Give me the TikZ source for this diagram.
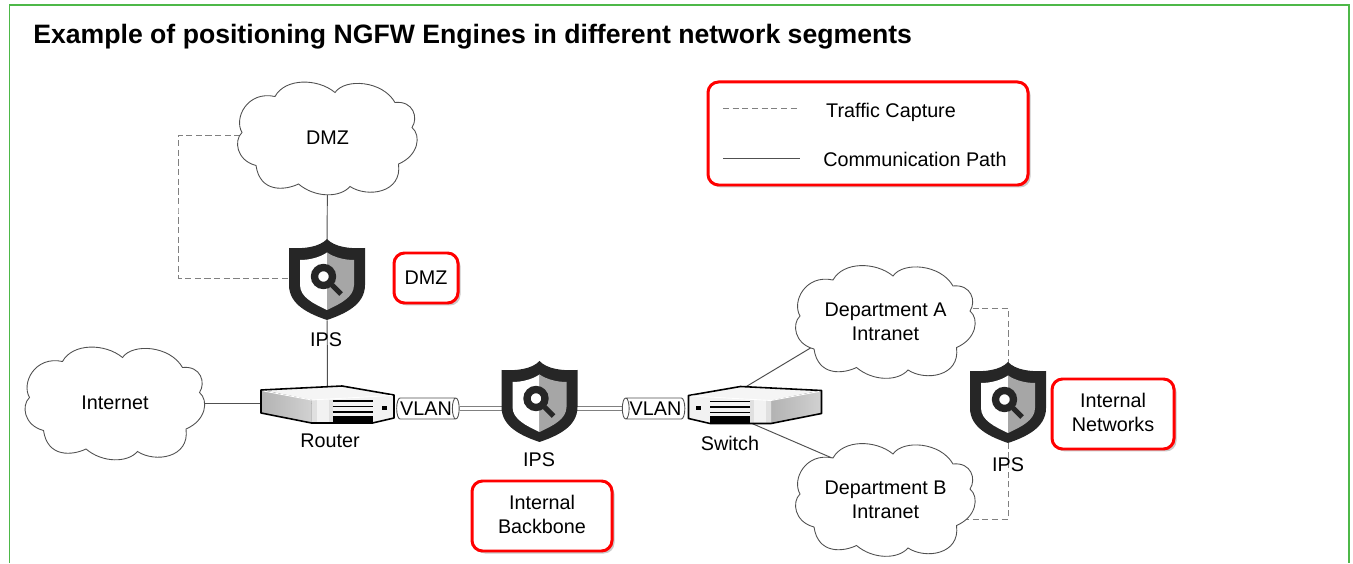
\documentclass[tikz,border=0pt]{standalone}
\usepackage{fontspec}
\setmainfont{Liberation Sans}
\usepackage{xcolor}
\usepackage{tikz}
\usetikzlibrary{shapes.geometric, positioning, backgrounds, shadows}
\definecolor{framegreen}{HTML}{4DB848}
\definecolor{shielddark}{HTML}{262626}
\definecolor{linegray}{HTML}{505050}
\tikzstyle{lbl} = [font=\fontsize{11.25}{13.6}\selectfont, align=center, inner sep=0pt]
\tikzstyle{redbox} = [lbl, draw=red, line width=1.7pt, rounded corners=6pt, fill=white, drop shadow={shadow xshift=0.05cm, shadow yshift=-0.05cm, fill=black!35, opacity=0.6}]
\tikzstyle{commpath} = [linegray, line width=0.55pt]
\tikzstyle{capture} = [gray, line width=0.55pt, dash pattern=on 3.5pt off 2pt]
\tikzstyle{trunk} = [gray, line width=0.5pt, double=white, double distance=1.7pt]
\tikzstyle{vlantube} = [lbl, shape=cylinder, draw=linegray, line width=0.5pt, fill=white, aspect=0.5, minimum width=0.42cm, minimum height=1.25cm]
\tikzstyle{cloudspot} = [lbl, minimum width=3.6cm, minimum height=2.26cm]
\tikzstyle{shieldspot} = [minimum width=1.5cm, minimum height=1.6cm, inner sep=0pt]
\tikzstyle{devicespot} = [minimum width=2.66cm, minimum height=0.74cm, inner sep=0pt]
\tikzset{
  netcloud/.pic={
    \draw[linegray, line width=0.5pt, fill=white] (-1.05,0.83)
      .. controls (-0.85,1.2) and (-0.2,1.2) .. (0.15,0.91)
      .. controls (0.35,1.2) and (1.1,1.15) .. (1.35,0.71)
      .. controls (1.72,0.75) and (1.82,0.4) .. (1.69,0.21)
      .. controls (1.88,0.05) and (1.82,-0.35) .. (1.42,-0.52)
      .. controls (1.5,-1.1) and (0.8,-1.2) .. (0.45,-0.97)
      .. controls (0.25,-1.2) and (-0.25,-1.2) .. (-0.58,-0.92)
      .. controls (-0.85,-1.05) and (-1.35,-1.1) .. (-1.43,-0.55)
      .. controls (-1.82,-0.45) and (-1.88,-0.05) .. (-1.71,0.11)
      .. controls (-1.88,0.4) and (-1.6,0.95) .. (-1.05,0.83) -- cycle;
  },
  ipsshield/.pic={
    % outer
    \fill[shielddark] (0,0.82) .. controls (0.15,0.66) and (0.45,0.62) .. (0.76,0.64)
      -- (0.76,-0.1) .. controls (0.76,-0.5) and (0.35,-0.68) .. (0,-0.8)
      .. controls (-0.35,-0.68) and (-0.76,-0.5) .. (-0.76,-0.1)
      -- (-0.76,0.64) .. controls (-0.45,0.62) and (-0.15,0.66) .. (0,0.82) -- cycle;
    % inner halves
    \fill[white] (0,0.55) .. controls (-0.15,0.45) and (-0.35,0.4) .. (-0.54,0.4)
      -- (-0.54,-0.1) .. controls (-0.54,-0.35) and (-0.25,-0.48) .. (0,-0.6) -- cycle;
    \fill[black!35] (0,0.55) .. controls (0.15,0.45) and (0.35,0.4) .. (0.54,0.4)
      -- (0.54,-0.1) .. controls (0.54,-0.35) and (0.25,-0.48) .. (0,-0.6) -- cycle;
    % magnifier
    \draw[shielddark, line width=0.146cm, fill=white] (-0.07,0.07) circle (0.18);
    \draw[shielddark, line width=0.1cm] (0.1,-0.1) -- (0.28,-0.28);
  },
  netdevice/.pic={
    % top face
    \fill[black!4] (-1.33,0.3) -- (0.29,0.38) -- (1.33,0.2) -- (-0.32,0.1) -- cycle;
    % side face
    \fill[left color=black!30, right color=black!18] (-1.33,0.3) -- (-0.32,0.1) -- (-0.32,-0.36) -- (-1.33,-0.16) -- cycle;
    % front face
    \fill[black!5] (-0.32,0.1) -- (1.33,0.2) -- (1.33,-0.26) -- (0.9,-0.36) -- (-0.32,-0.36) -- cycle;
    \fill[black!12] (-0.32,0.1) rectangle (-0.22,-0.36);
    \fill[black!12] (0.02,0.1) rectangle (0.1,-0.36);
    % grille
    \fill[black] (0.1,-0.22) rectangle (0.9,-0.36);
    \draw[black, line width=0.7pt] (0.1,0.08) -- (0.9,0.08) (0.1,-0.03) -- (0.9,-0.03) (0.1,-0.14) -- (0.9,-0.14);
    \fill[black] (1.08,-0.1) rectangle (1.18,-0.02);
    % outline
    \draw[black, line width=0.9pt, line join=round] (-1.33,0.3) -- (0.29,0.38) -- (1.33,0.2) -- (1.33,-0.26) -- (0.9,-0.36) -- (-0.32,-0.36) -- (-1.33,-0.16) -- cycle;
    \draw[white, line width=0.5pt] (-1.33,0.3) ++(0.05,-0.02) -- (-0.32,0.1) -- (1.28,0.19);
  }
}

\begin{document}
\begin{tikzpicture}
\useasboundingbox (0,0) rectangle (27.06,11.26);

% Outer frame
\draw[framegreen, line width=0.75pt] (0.19,0) -- (0.19,11.16) -- (26.98,11.16) -- (26.98,0);

% Title
\node[anchor=west, inner sep=0pt, font=\fontsize{15.15}{18}\selectfont\bfseries] (title) at (0.66,10.53) {Example of positioning NGFW Engines in different network segments};

% Clouds
\pic at (6.55,8.5) {netcloud};
\node[cloudspot] (dmz) at (6.55,8.5) {DMZ};
\pic at (2.3,3.2) {netcloud};
\node[cloudspot] (internet) at (2.3,3.2) {Internet};
\pic at (17.71,4.83) {netcloud};
\node[cloudspot] (depta) at (17.71,4.83) {Department A\\Intranet};
\pic at (17.71,1.27) {netcloud};
\node[cloudspot] (deptb) at (17.71,1.27) {Department B\\Intranet};

% Shields
\pic at (6.54,5.66) {ipsshield};
\node[shieldspot] (ipsdmz) at (6.54,5.66) {};
\pic at (10.79,3.22) {ipsshield};
\node[shieldspot] (ipsbone) at (10.79,3.22) {};
\pic at (20.16,3.2) {ipsshield};
\node[shieldspot] (ipsint) at (20.16,3.2) {};

% Router and switch
\pic at (6.55,3.16) {netdevice};
\node[devicespot] (router) at (6.55,3.16) {};
\pic[xscale=-1] at (15.1,3.15) {netdevice};
\node[devicespot] (switch) at (15.1,3.15) {};

% VLAN tubes
\node[vlantube] (vlanr) at (8.52,3.09) {VLAN};
\node[vlantube, shape border rotate=180] (vlans) at (13.11,3.09) {VLAN};

% Device labels
\node[lbl] (ipsdmzlbl) at (6.52,4.46) {IPS};
\node[lbl] (ipsbonelbl) at (10.78,2.06) {IPS};
\node[lbl] (ipsintlbl) at (20.16,1.96) {IPS};
\node[lbl] (routerlbl) at (6.6,2.44) {Router};
\node[lbl] (switchlbl) at (14.6,2.4) {Switch};

% Red callouts
\node[redbox, minimum width=6.4cm, minimum height=2.06cm] (legend) at (17.36,8.59) {};
\node[redbox, minimum width=1.28cm, minimum height=1cm] (zonedmz) at (8.52,5.7) {DMZ};
\node[redbox, text depth=0.06cm, minimum width=2.8cm, minimum height=1.4cm] (zonebone) at (10.84,0.94) {Internal\\Backbone};
\node[redbox, text depth=0.06cm, minimum width=2.44cm, minimum height=1.4cm] (zoneint) at (22.26,2.98) {Internal\\Networks};

% Legend
\coordinate (capa) at (14.46,9.1);
\coordinate (capb) at (16,9.1);
\coordinate (coma) at (14.46,8.1);
\coordinate (comb) at (16,8.1);
\draw[capture] (capa) -- (capb);
\draw[commpath] (coma) -- (comb);
\node[lbl] (captxt) at (17.82,9.02) {Traffic Capture};
\node[lbl] (comtxt) at (18.3,8.08) {Communication Path};

% Connectors
\coordinate (capdmz) at (3.56,7);
\begin{scope}[on background layer]
\draw[commpath] (dmz) -- (ipsdmz);
\draw[commpath] (ipsdmz) -- (router);
\draw[commpath] (internet) -- (internet -| router);
\draw[trunk] (vlanr) -- (vlanr -| ipsbone);
\draw[trunk] (vlans) -- (vlans -| ipsbone);
\draw[commpath] ([xshift=-0.24cm,yshift=0.34cm]switch.center) -- ([xshift=-1.45cm,yshift=-0.5cm]depta.center);
\draw[commpath] ([xshift=-0.2cm,yshift=-0.3cm]switch.center) -- ([xshift=-1.07cm,yshift=0.83cm]deptb.center);
\draw[capture] ([yshift=0.06cm]dmz.center) -| (capdmz) |- ([yshift=0.04cm]ipsdmz.center);
\draw[capture] ([yshift=0.27cm]depta.center) -| (ipsint);
\draw[capture] ([yshift=-0.4cm]deptb.center) -| (ipsint);
\end{scope}
\end{tikzpicture}
\end{document}
